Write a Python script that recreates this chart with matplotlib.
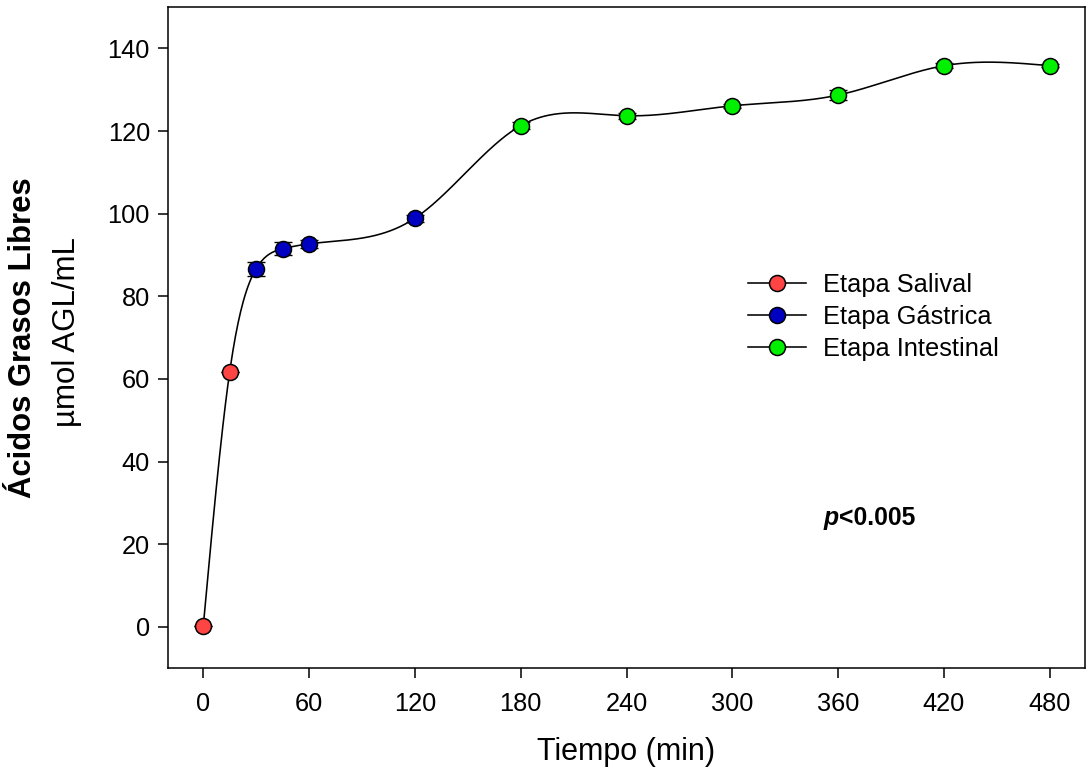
import numpy as np
import matplotlib
matplotlib.use("Agg")
import matplotlib.pyplot as plt
from matplotlib.lines import Line2D

plt.rcParams['font.family'] = ['Liberation Sans', 'DejaVu Sans']

# ---- data: free fatty acids during in vitro digestion ----
time_min = [0, 15, 30, 45, 60, 120, 180, 240, 300, 360, 420, 480]
agl = [0.2, 61.8, 86.7, 91.5, 92.7, 98.9, 121.3, 123.7, 126.1, 128.7, 135.8, 135.8]
agl_err = [0.0, 0.0, 1.7, 1.6, 0.9, 0.8, 0.8, 0.7, 0.5, 1.3, 0.6, 0.3]
stage = ['sal', 'sal', 'gas', 'gas', 'gas', 'gas',
         'int', 'int', 'int', 'int', 'int', 'int']

stage_names = {'sal': 'Etapa Salival', 'gas': 'Etapa Gástrica', 'int': 'Etapa Intestinal'}
stage_colors = {'sal': '#FF4444', 'gas': '#0000C0', 'int': '#00F000'}

x_ticks = [0, 60, 120, 180, 240, 300, 360, 420, 480]
y_ticks = [0, 20, 40, 60, 80, 100, 120, 140]


def natural_spline(x, y, xs):
    """Natural cubic spline through (x, y), evaluated at xs."""
    x = np.asarray(x, float)
    y = np.asarray(y, float)
    n = len(x)
    h = np.diff(x)
    A = np.zeros((n, n))
    b = np.zeros(n)
    A[0, 0] = A[-1, -1] = 1.0
    for i in range(1, n - 1):
        A[i, i - 1] = h[i - 1]
        A[i, i] = 2 * (h[i - 1] + h[i])
        A[i, i + 1] = h[i]
        b[i] = 3 * ((y[i + 1] - y[i]) / h[i] - (y[i] - y[i - 1]) / h[i - 1])
    c = np.linalg.solve(A, b)
    bb = (y[1:] - y[:-1]) / h - h * (2 * c[:-1] + c[1:]) / 3
    d = (c[1:] - c[:-1]) / (3 * h)
    idx = np.clip(np.searchsorted(x, xs) - 1, 0, n - 2)
    t = xs - x[idx]
    return y[idx] + bb[idx] * t + c[idx] * t ** 2 + d[idx] * t ** 3


fig = plt.figure(figsize=(10.86, 7.82), dpi=100)
ax = fig.add_axes([0.1547, 0.1454, 0.8444, 0.8456])

# smooth curve through the means
xs = np.linspace(time_min[0], time_min[-1], 1000)
ax.plot(xs, natural_spline(time_min, agl, xs), color='black', lw=1.15, zorder=2)

# error bars behind the markers
ax.errorbar(time_min, agl, yerr=agl_err, fmt='none', ecolor='black',
            elinewidth=1.0, capsize=6.8, capthick=1.0, zorder=3)

for key in ['sal', 'gas', 'int']:
    xi = [t for t, s in zip(time_min, stage) if s == key]
    yi = [v for v, s in zip(agl, stage) if s == key]
    ax.plot(xi, yi, linestyle='none', marker='o', markersize=11.5,
            markerfacecolor=stage_colors[key], markeredgecolor='black',
            markeredgewidth=1.1, zorder=4)

ax.set_xlim(-20, 500)
ax.set_ylim(-10, 150)
ax.set_xticks(x_ticks)
ax.set_yticks(y_ticks)
ax.tick_params(axis='both', direction='out', length=7, width=1.1,
               labelsize=18.3)
ax.tick_params(axis='x', pad=10)
ax.tick_params(axis='y', pad=6)
for sp in ax.spines.values():
    sp.set_linewidth(1.1)

ax.set_xlabel('Tiempo (min)', fontsize=22, labelpad=15)

# two-line y label: bold title and units
fig.text(0.021, 0.568, 'Ácidos Grasos Libres', rotation=90, fontsize=22.3,
         fontweight='bold', ha='center', va='center')
fig.text(0.062, 0.575, 'µmol AGL/mL', rotation=90, fontsize=22.5,
         ha='center', va='center')

# legend
handles = [Line2D([0], [0], color='black', lw=1.15, marker='o', markersize=11.5,
                  markerfacecolor=stage_colors[k], markeredgecolor='black',
                  markeredgewidth=1.1) for k in ['sal', 'gas', 'int']]
ax.legend(handles, [stage_names[k] for k in ['sal', 'gas', 'int']],
          loc='center left', bbox_to_anchor=(748 / 1086, 1 - 317 / 782),
          bbox_transform=fig.transFigure, frameon=False, fontsize=18.3,
          handlelength=2.3, handletextpad=0.65, labelspacing=0.33,
          borderpad=0, borderaxespad=0, numpoints=1)

# significance note
pt = ax.text(824 / 1086, 1 - 518 / 782, 'p', transform=fig.transFigure,
             fontsize=17.8, fontweight='bold', fontstyle='italic',
             ha='left', va='center')
ax.annotate('<0.005', xy=(1, 0), xycoords=pt, fontsize=17.8,
            fontweight='bold', ha='left', va='bottom')

fig.savefig('out.png', dpi=100)
